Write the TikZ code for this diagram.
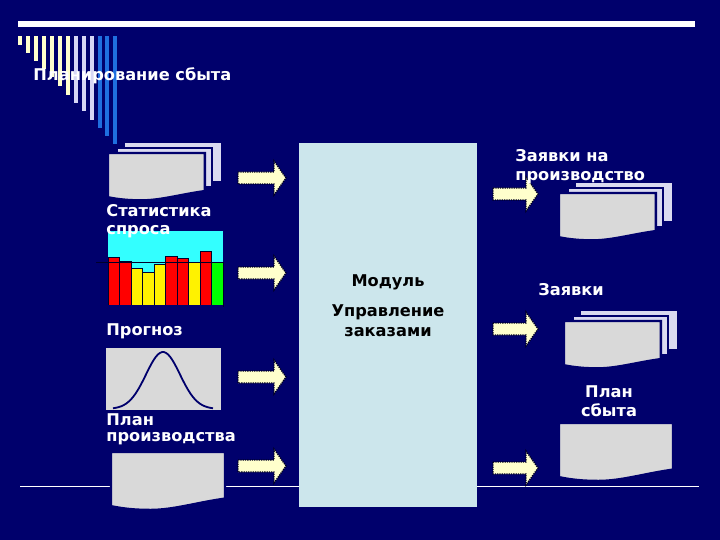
\documentclass[tikz,border=0pt]{standalone}
\usepackage{fontspec}
\setmainfont{DejaVu Sans}
\definecolor{navy}{HTML}{00006C}
\definecolor{sheetgrey}{HTML}{D9D9D9}
\definecolor{sheetback}{HTML}{DADAF0}
\definecolor{modulefill}{HTML}{CCE6EC}
\definecolor{paleyellow}{HTML}{FFFFCC}
\definecolor{paleblue}{HTML}{D6D6F5}
\definecolor{stripeblue}{HTML}{1F6FDF}
\definecolor{skyfill}{HTML}{33FFFF}
\tikzset{
  label/.style={text=white,font=\fontsize{16.2}{19}\selectfont\bfseries,inner sep=0pt},
  leftlabel/.style={label,anchor=base west},
  midlabel/.style={label,anchor=base},
  modulelabel/.style={midlabel,text=black},
  sheet/.pic={
    \path[pic actions] (0,0) -- (95,0) -- (95,37) .. controls (72,40) and (52,46) .. (33,46)
      .. controls (20,46) and (10,45) .. (0,43) -- cycle; },
  stack/.pic={
    \path[fill=sheetback] (16,-11) rectangle (112,27);
    \draw[navy,line width=1.5,fill=sheetback] (8,-6) rectangle (103,33);
    \path (-1,-1) pic[draw=navy,line width=2.4,fill=sheetgrey,xscale=1.02,yscale=1.03] {sheet}; },
  blockarrow/.pic={
    \draw[fill=paleyellow,draw=black!70!navy,line width=1.3,densely dotted]
      (0,-6) -- (#1,-6) -- (#1,-17) -- ({#1+12},0) -- (#1,17) -- (#1,6) -- (0,6) -- cycle; },
}
\begin{document}
\begin{tikzpicture}[x=1pt,y=-1pt,line width=0.8]
  \useasboundingbox (0,0) rectangle (720,540);
  \fill[navy] (0,0) rectangle (720,540);
  % top rule and stripes
  \fill[white] (18,21) rectangle (695,27);
  \foreach \i/\e/\c in {0/45/paleyellow,1/53/paleyellow,2/61/paleyellow,3/69/paleyellow,
    4/77/paleyellow,5/86/paleyellow,6/95/paleyellow,7/103/paleblue,8/111/paleblue,
    9/120/paleblue,10/128/stripeblue,11/136/stripeblue,12/144/stripeblue}{
    \fill[\c] ({18+\i*7.95},36) rectangle ({22+\i*7.95},\e); }
  % bottom rule
  \draw[white,line width=0.7] (20,486) -- (699,486);
  % central module
  \fill[modulefill] (299,143) rectangle (477,507);
  % documents
  \path (109,154) pic {stack};
  \path (560,194) pic {stack};
  \path (565,322) pic {stack};
  \path (559,423) pic[fill=sheetgrey,draw=navy,line width=2.4,xscale=1.2,yscale=1.26] {sheet};
  \path (111,452) pic[fill=sheetgrey,draw=navy,line width=2.4,xscale=1.2,yscale=1.26] {sheet};
  % demand chart
  \fill[skyfill] (108,231) rectangle (223,306);
  \foreach \i/\t/\c in {0/257/red,1/261/red,2/268/yellow,3/272/yellow,4/264/yellow,
    5/256/red,6/258/red,7/262/yellow,8/251/red,9/262/green}{
    \draw[black!60!navy,line width=0.5,fill=\c] ({108+\i*11.5},\t) rectangle ({119.5+\i*11.5},306); }
  \draw[black!60!navy,line width=1] (96,262) -- (223,262);
  \draw[navy,line width=1.2] (96,306) -- (223,306);
  % bell curve
  \fill[sheetgrey] (106,348) rectangle (221,410);
  \draw[navy,line width=1.8,domain=-50:50,samples=50,smooth]
    plot ({163+\x},{409-57*exp(-(\x/24)*(\x/24))});
  % block arrows
  \foreach \y in {178,273,377,466}{ \path (238,\y) pic {blockarrow=36}; }
  \foreach \y in {194,329,468}{ \path (493,\y) pic {blockarrow=33}; }
  % labels
  \node[leftlabel] (title) at (33,81) {Планирование сбыта};
  \node[leftlabel] (stat) at (106,216) {Статистика};
  \node[leftlabel] (demand) at (106,235) {спроса};
  \node[leftlabel] (forecast) at (106,335) {Прогноз};
  \node[leftlabel] (plan) at (106,425) {План};
  \node[leftlabel] (production) at (106,441) {производства};
  \node[modulelabel] (module) at (388,286) {Модуль};
  \node[modulelabel] (control) at (388,316) {Управление};
  \node[modulelabel] (orders) at (388,336) {заказами};
  \node[leftlabel] (request) at (515,162) {Заявки на};
  \node[leftlabel] (output) at (515,181) {производство};
  \node[leftlabel] (requests) at (538,295) {Заявки};
  \node[midlabel] (salesplan) at (609,397) {План};
  \node[midlabel] (sales) at (609,416) {сбыта};
\end{tikzpicture}
\end{document}
